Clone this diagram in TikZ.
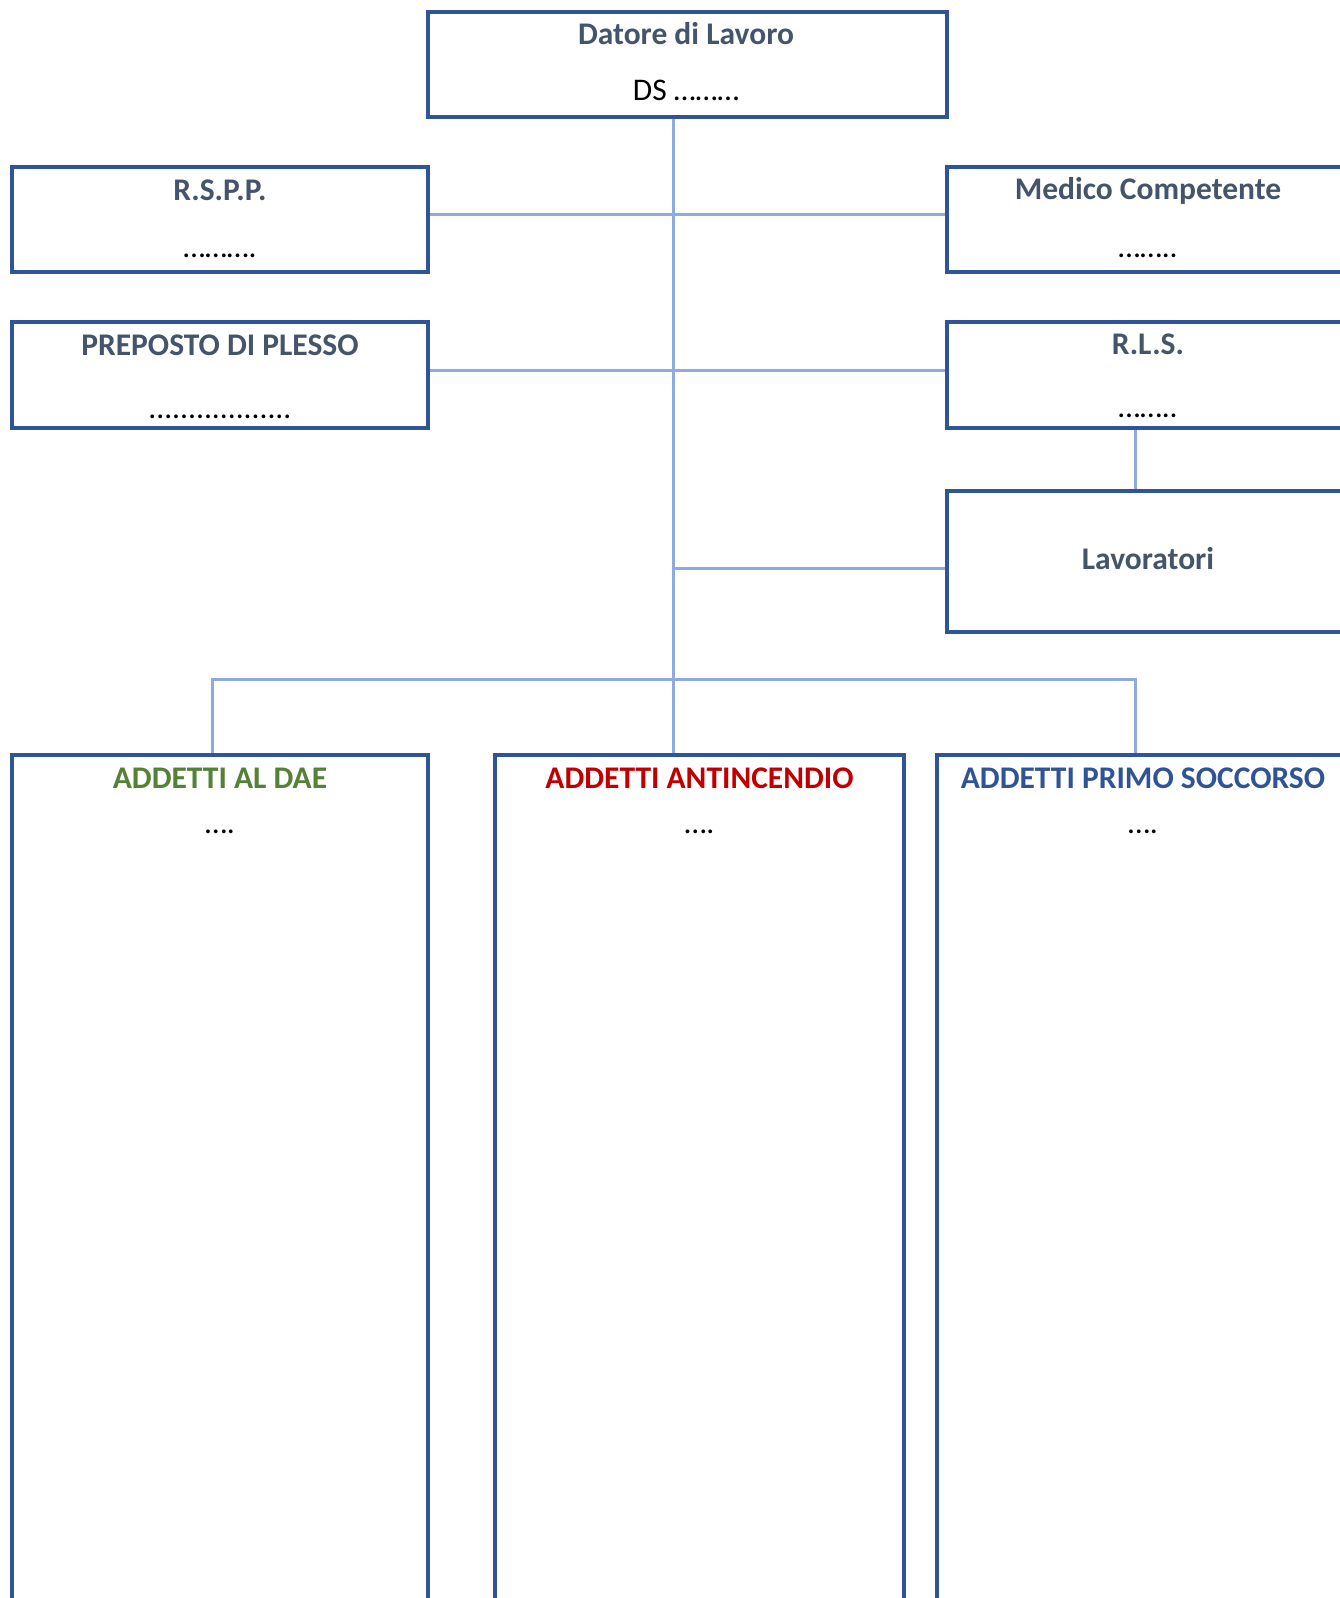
\documentclass[tikz,border=0pt]{standalone}
\usepackage{fontspec}
\setmainfont{Carlito}
\definecolor{boxblue}{HTML}{2F5597}
\definecolor{linkblue}{HTML}{8FAADC}
\definecolor{slate}{HTML}{44546A}
\definecolor{dgreen}{HTML}{538135}
\definecolor{dred}{HTML}{C00000}
\definecolor{pblue}{HTML}{2F5496}
\pgfdeclarelayer{bg}
\pgfsetlayers{bg,main}
\begin{document}
\begin{tikzpicture}[x=1pt,y=-1pt,
  box/.style={draw=boxblue,line width=4pt,rectangle,inner sep=0pt,outer sep=0pt,anchor=north west},
  link/.style={draw=linkblue,line width=3pt},
  head/.style={font=\fontsize{31.5}{36}\selectfont\bfseries,text=slate,anchor=base,inner sep=0pt},
  dotsx/.style={font=\fontsize{31.5}{36}\selectfont,text=black,anchor=base,inner sep=0pt}]
\useasboundingbox (0,0) rectangle (1340,1598);
\clip (0,0) rectangle (1340,1598);
% boxes
\node[box,minimum width=519pt,minimum height=105pt] (dl) at (428,12) {};
\node[box,minimum width=416pt,minimum height=105pt] (rspp) at (12,167) {};
\node[box,minimum width=416pt,minimum height=106pt] (prep) at (12,322) {};
\node[box,minimum width=402pt,minimum height=105pt] (med) at (947,167) {};
\node[box,minimum width=402pt,minimum height=106pt] (rls) at (947,322) {};
\node[box,minimum width=402pt,minimum height=141pt] (lav) at (947,491) {};
\node[box,minimum width=416pt,minimum height=870pt] (dae) at (12,755) {};
\node[box,minimum width=409pt,minimum height=870pt] (anti) at (495,755) {};
\node[box,minimum width=412pt,minimum height=870pt] (primo) at (937,755) {};
% texts
\node[head] (tdl) at (686,44) {Datore di Lavoro};
\node[dotsx] (tds) at (686,100) {DS ………};
\node[head] (trspp) at (220,200) {R.S.P.P.};
\node[dotsx] (drspp) at (220,257) {……….};
\node[head] (tprep) at (220,355) {PREPOSTO DI PLESSO};
\node[dotsx] (dprep) at (220,418) {..................};
\node[head] (tmed) at (1148,199) {Medico Competente};
\node[dotsx] (dmed) at (1148,257) {……..};
\node[head] (trls) at (1148,354) {R.L.S.};
\node[dotsx] (drls) at (1148,417) {……..};
\node[head] (tlav) at (1148,569) {Lavoratori};
\node[head,text=dgreen] (tdae) at (220,788) {ADDETTI AL DAE};
\node[dotsx] (ddae) at (220,833) {….};
\node[head,text=dred] (tanti) at (699.5,788) {ADDETTI ANTINCENDIO};
\node[dotsx] (danti) at (699.5,833) {….};
\node[head,text=pblue] (tprimo) at (1143,788) {ADDETTI PRIMO SOCCORSO};
\node[dotsx] (dprimo) at (1143,833) {….};
% connectors
\coordinate (trunk) at (673.5,679);
\coordinate (y1) at (0,214.5);
\coordinate (y2) at (0,370);
\coordinate (y3) at (0,568);
\coordinate (rx) at (1135,0);
\coordinate (lx) at (212,0);
\begin{pgfonlayer}{bg}
\draw[link] (dl.south -| trunk) -- (anti.north -| trunk);
\draw[link] (rspp.east |- y1) -- (med.west |- y1);
\draw[link] (prep.east |- y2) -- (rls.west |- y2);
\draw[link] (trunk |- y3) -- (lav.west |- y3);
\draw[link] (rls.south -| rx) -- (lav.north -| rx);
\draw[link] (dae.north -| lx) -- (trunk -| lx) -- (trunk -| rx) -- (primo.north -| rx);
\end{pgfonlayer}
\end{tikzpicture}
\end{document}
